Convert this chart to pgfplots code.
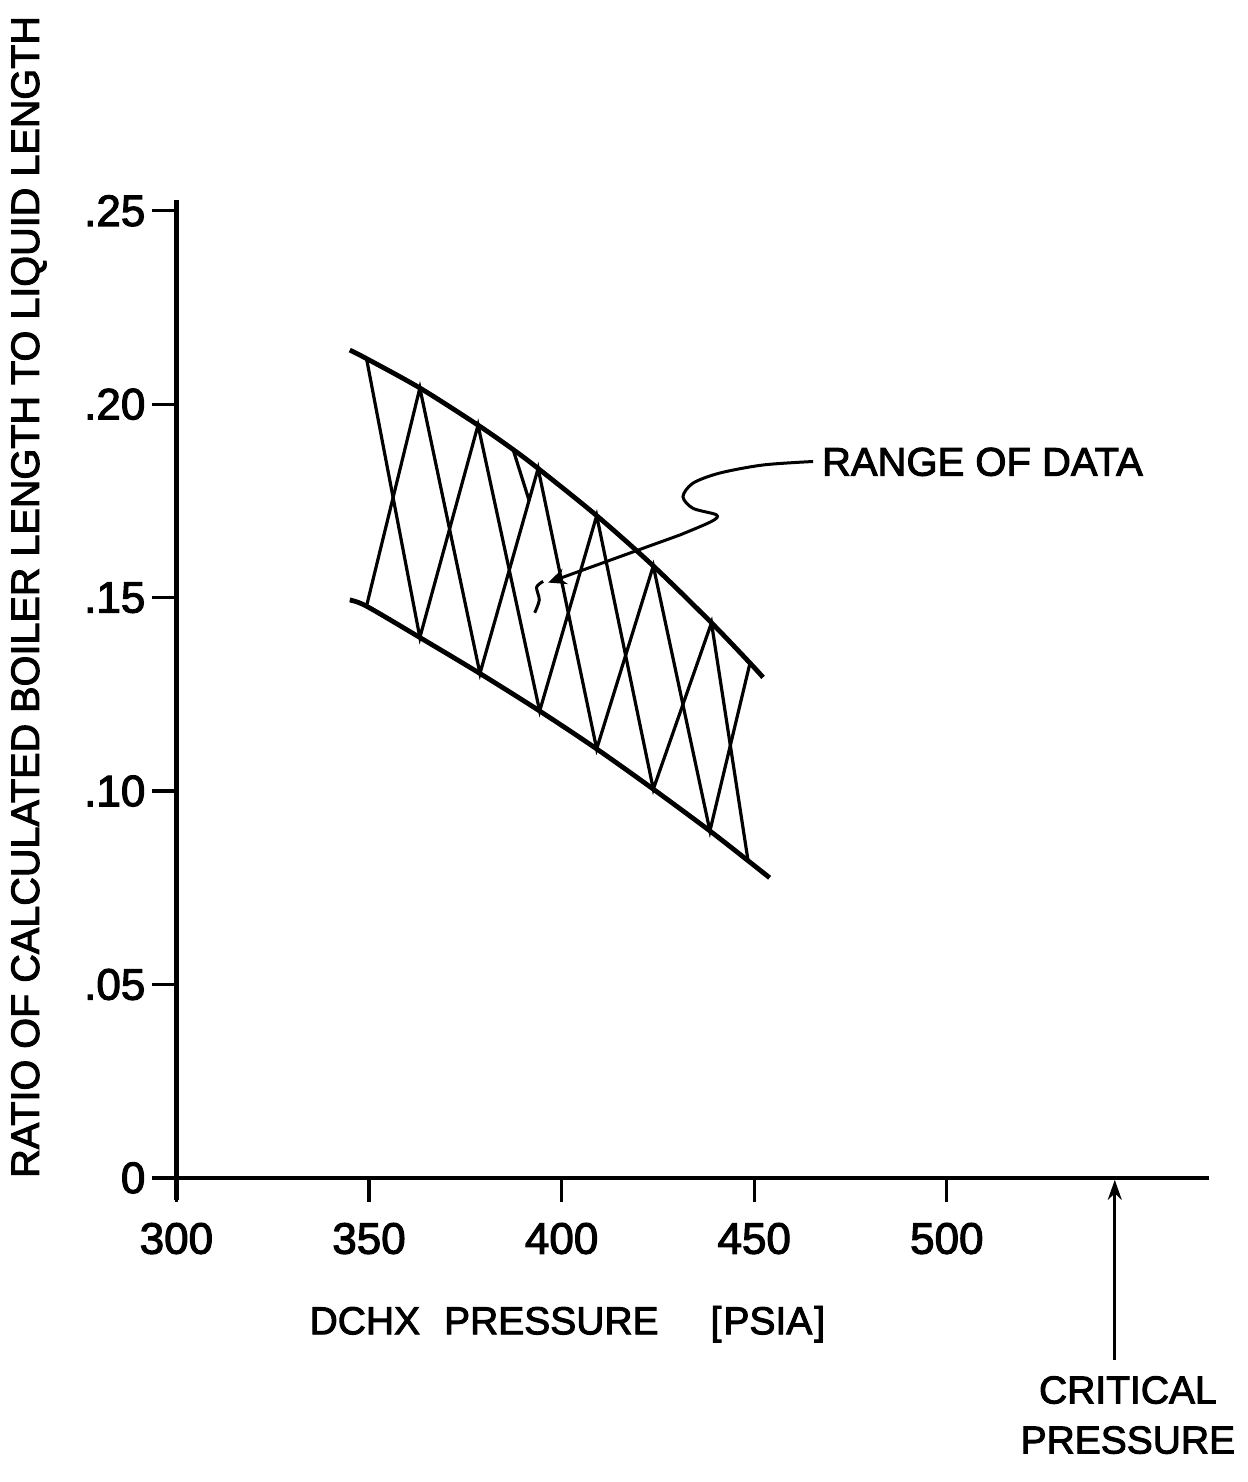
\documentclass[border=0pt]{standalone}
\usepackage{fontspec}
\setmainfont{Liberation Sans}[FakeBold=2.5]
\usepackage{pgfplots}
\pgfplotsset{compat=1.18}
\usetikzlibrary{arrows.meta}

\begin{document}
\begin{tikzpicture}
\begin{axis}[
    scale only axis,
    width=516.2pt, height=489pt,
    xmin=300, xmax=568, ymin=0, ymax=0.2528,
    axis lines*=left,
    axis line style={line width=2.4pt},
    clip=false,
    tick align=outside,
    major tick length=12pt,
    tick style={line width=1.6pt, black},
    xtick={300,350,400,450,500},
    xticklabels={300,350,400,450,500},
    ytick={0,0.05,0.10,0.15,0.20,0.25},
    yticklabels={0,.05,.10,.15,.20,.25},
    tick label style={font=\fontsize{22}{26}\selectfont},
    xticklabel style={yshift=-7pt},
    /pgf/number format/assume math mode=true,
]
% band edges
\addplot[line width=2.4pt, smooth] coordinates {
    (345.0,0.2140) (349.35,0.2118) (363.2,0.2042) (378.3,0.1946) (387.4,0.1883)
    (393.9,0.1834) (409.1,0.1712) (423.8,0.1582) (438.9,0.1435) (448.9,0.1331) (452.3,0.1294)};
\addplot[line width=2.4pt, smooth] coordinates {
    (345.0,0.1494) (349.35,0.1478) (363.2,0.1397) (378.8,0.1304) (394.3,0.1207)
    (409.1,0.1109) (423.8,0.1005) (438.5,0.0897) (448.4,0.0820) (454.0,0.0776)};
% cross hatching
\addplot[line width=1.6pt] coordinates {
    (349.35,0.2118) (363.2,0.1397) (378.3,0.1946) (394.3,0.1207) (409.1,0.1712)
    (423.8,0.1005) (438.9,0.1435) (448.4,0.0820)};
\addplot[line width=1.6pt] coordinates {
    (349.35,0.1478) (363.2,0.2042) (378.8,0.1304) (393.9,0.1834) (409.1,0.1109)
    (423.8,0.1582) (438.5,0.0897) (448.9,0.1331)};
\addplot[line width=1.6pt] coordinates {(387.4,0.1883) (391.6,0.1750)};

% axis extensions
\draw[line width=2.4pt] (axis cs:294.4,0) -- (axis cs:300,0);
\draw[line width=2.4pt] (axis cs:300,0) -- (axis cs:300,-0.0057);

% labels
\node[rotate=90, font=\fontsize{19.8}{23}\selectfont] at (axis cs:261.7,0.1502)
    {RATIO OF CALCULATED BOILER LENGTH TO LIQUID LENGTH};
\node[font=\fontsize{19.5}{23}\selectfont] at (axis cs:401.5,-0.0378)
    {DCHX\hspace{12pt}PRESSURE\hspace{26pt}[\hspace{1pt}PSIA\hspace{1pt}]};

% range of data annotation
\node[anchor=west, font=\fontsize{20}{24}\selectfont, inner sep=0pt] at (axis cs:467.5,0.1851) {RANGE OF DATA};
\draw[line width=1.5pt] plot[smooth] coordinates {
    (axis cs:465.3,0.1852) (axis cs:452.3,0.1843) (axis cs:441.0,0.1822) (axis cs:434.1,0.1796)
    (axis cs:431.5,0.1761) (axis cs:434.1,0.1731) (axis cs:440.2,0.1714) (axis cs:438.9,0.1697)
    (axis cs:430.7,0.1662)};
\draw[line width=1.5pt, -{Stealth[length=9pt, width=8pt]}] (axis cs:430.7,0.1662) -- (axis cs:396.5,0.1539);
\draw[line width=1.5pt] plot[smooth] coordinates {
    (axis cs:395.2,0.1542) (axis cs:393.5,0.1527) (axis cs:394.2,0.1494) (axis cs:393.0,0.1461)};

% critical pressure
\draw[line width=1.5pt, -{Stealth[length=10pt, width=7pt]}] (axis cs:543.6,-0.047) -- (axis cs:543.6,-0.0005);
\node[align=center, font=\fontsize{19.5}{25}\selectfont] at (axis cs:547.0,-0.0613) {CRITICAL\\PRESSURE};

\coordinate (bbA) at (axis cs:254.2,0.3045);
\coordinate (bbB) at (axis cs:578.1,-0.0786);
\end{axis}
\pgfresetboundingbox
\path[use as bounding box] (bbA) rectangle (bbB);
\end{tikzpicture}
\end{document}
